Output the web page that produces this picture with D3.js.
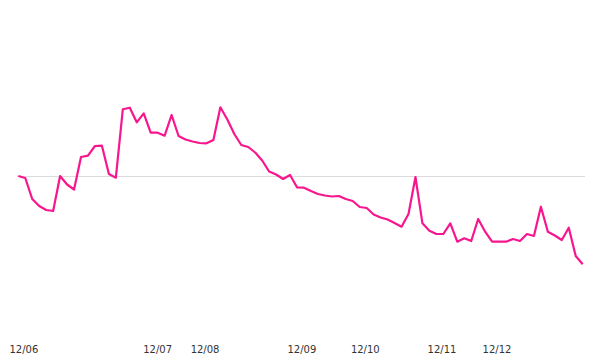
<!DOCTYPE html>
<html>
<head>
<meta charset="utf-8">
<script src="https://cdn.jsdelivr.net/npm/d3@7"></script>
<style>
  body { margin: 0; background: #fff; }
</style>
</head>
<body>
<div id="lineChart"></div>
<script>
// change vs. first point, one value per period
let values = [
  0, -2, -23, -30, -34, -35, 0, -8.5, -13.5, 19,
  20.3, 30, 30.3, 2, -1.7, 66.7, 68.3, 53.7, 62.7, 43.3,
  43.3, 40.3, 61, 40, 36.5, 34.5, 33, 32.7, 36, 68.7,
  56.5, 42, 31, 29, 23.5, 15.5, 4.5, 1.5, -3, 1,
  -11.3, -11.7, -15, -18, -19.5, -20.5, -20, -23, -25, -31,
  -32, -38.5, -41.5, -43.5, -47, -50.7, -38, -1, -47.3, -54.7,
  -58, -58, -47.3, -65.7, -62.3, -65, -43, -55.7, -65.7, -65.7,
  -65.7, -63, -65, -58, -60, -30.7, -55.7, -59.5, -64, -51.7,
  -80, -88.3,
];

// x-axis labels and where they sit (in point index units)
let tickLabels = ["12/06", "12/07", "12/08", "12/09", "12/10", "12/11", "12/12"];
let tickIndex = [0.8, 20, 26.8, 40.7, 49.8, 60.8, 68.7];

let width = 600;
let height = 360;

let svg = d3
  .select("#lineChart")
  .append("svg")
  .attr("width", width)
  .attr("height", height);

let xScale = d3
  .scaleLinear()
  .domain([0, values.length - 1])
  .range([18.3, 582.7]);

let yScale = d3.scaleLinear().domain([-100, 100]).range([276, 76]);

// reference line at the starting value
svg
  .append("line")
  .attr("x1", 17)
  .attr("x2", 585)
  .attr("y1", Math.round(yScale(values[0])) + 0.5)
  .attr("y2", Math.round(yScale(values[0])) + 0.5)
  .attr("stroke", "#dcdcdc")
  .attr("stroke-width", 1);

svg
  .append("path")
  .datum(values)
  .attr("fill", "none")
  .attr("stroke", "#f7168e")
  .attr("stroke-width", 2.2)
  .attr("stroke-linejoin", "round")
  .attr(
    "d",
    d3
      .line()
      .x((d, i) => xScale(i))
      .y((d) => yScale(d))
  );

svg
  .append("g")
  .selectAll("text")
  .data(tickLabels)
  .join("text")
  .attr("x", (d, i) => xScale(tickIndex[i]))
  .attr("y", 353)
  .attr("text-anchor", "middle")
  .style("font-family", "DejaVu Sans, sans-serif")
  .style("font-size", "10px")
  .style("fill", "#333")
  .text((d) => d);
</script>
</body>
</html>
